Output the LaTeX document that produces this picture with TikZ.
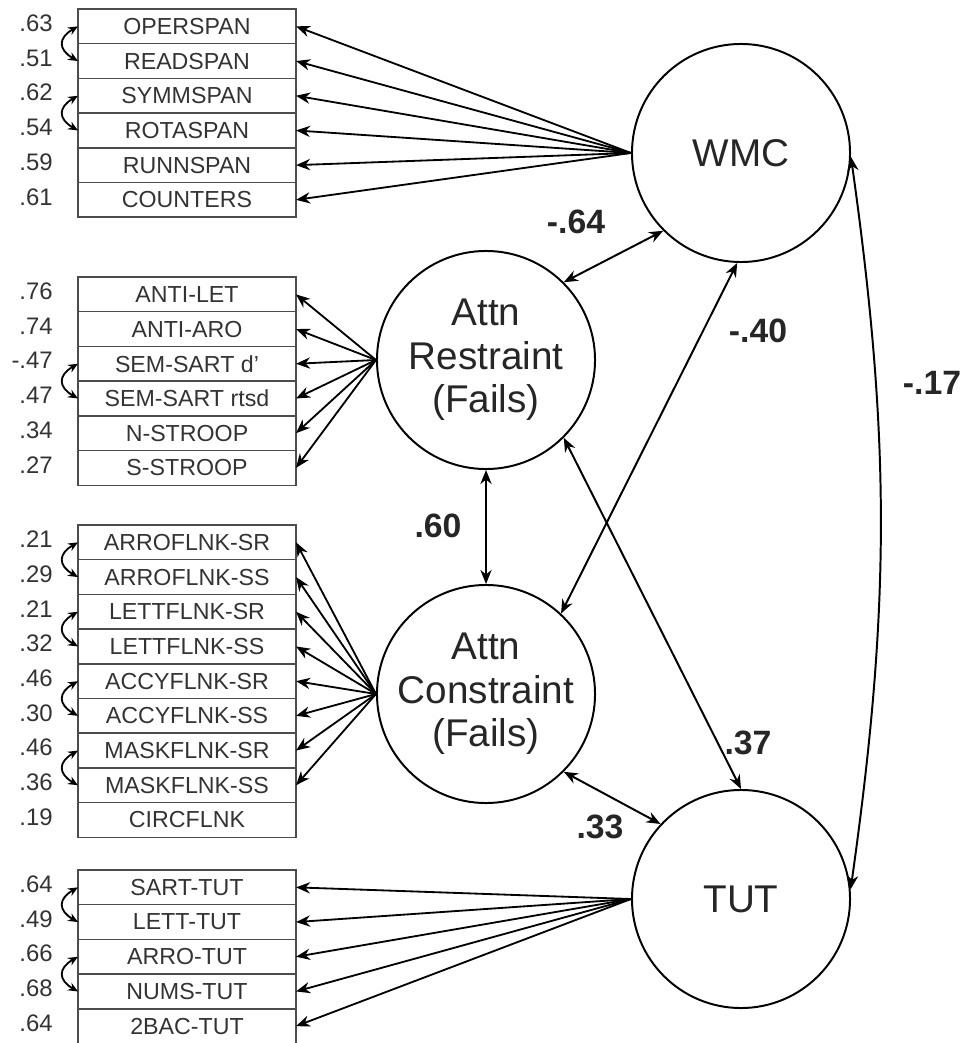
\documentclass[tikz,border=0pt]{standalone}
\usepackage{fontspec}
\setmainfont{Liberation Sans}
\usetikzlibrary{arrows.meta,positioning}

\begin{document}
\begin{tikzpicture}[x=0.025cm,y=-0.025cm,
  ind/.style={draw=black!70,line width=1pt,minimum width=5.45cm,minimum height=0.8675cm,
    inner sep=0pt,outer sep=0pt,text=black!80,font=\fontsize{16.5}{19}\selectfont},
  lat/.style={circle,draw,line width=1.4pt,minimum size=5.45cm,inner sep=0pt,
    align=center,text=black!85,font=\fontsize{27.5}{31}\selectfont},
  num/.style={anchor=east,inner sep=0pt,text=black!80,font=\fontsize{17}{19}\selectfont},
  est/.style={inner sep=0pt,text=black!85,font=\bfseries\fontsize{24}{27}\selectfont},
  load/.style={-{Stealth[length=10pt,width=8pt]},line width=1.3pt},
  cov/.style={{Stealth[length=10pt,width=8pt]}-{Stealth[length=10pt,width=8pt]},line width=1.4pt},
  err/.style={{Stealth[length=7pt,width=6pt]}-{Stealth[length=7pt,width=6pt]},line width=1.3pt}]
\useasboundingbox (0,0) rectangle (961,1043);

% latent factors
\node[lat] (WMC) at (741,153) {WMC};
\node[lat] (Restr) at (486,360) {Attn\\Restraint\\(Fails)};
\node[lat] (Constr) at (486,694) {Attn\\Constraint\\(Fails)};
\node[lat] (TUT) at (741,899) {TUT};

% indicators
\foreach \i/\t/\r in {1/OPERSPAN/.63,2/READSPAN/.51,3/SYMMSPAN/.62,4/ROTASPAN/.54,5/RUNNSPAN/.59,6/COUNTERS/.61}{
  \node[ind] (w\i) at (187,{9+34.7*(\i-0.5)}) {\t};
  \node[num] (wr\i) at (53,{6+34.7*(\i-0.5)}) {\r};
  \draw[load] (WMC.west) -- (w\i.east);
}
\foreach \i/\t/\r in {1/ANTI-LET/.76,2/ANTI-ARO/.74,3/SEM-SART d'/-.47,4/SEM-SART rtsd/.47,5/N-STROOP/.34,6/S-STROOP/.27}{
  \node[ind] (r\i) at (187,{277+34.7*(\i-0.5)}) {\t};
  \node[num] (rr\i) at (53,{274+34.7*(\i-0.5)}) {\r};
  \draw[load] (Restr.west) -- (r\i.east);
}
\foreach \i/\t/\r in {1/ARROFLNK-SR/.21,2/ARROFLNK-SS/.29,3/LETTFLNK-SR/.21,4/LETTFLNK-SS/.32,5/ACCYFLNK-SR/.46,6/ACCYFLNK-SS/.30,7/MASKFLNK-SR/.46,8/MASKFLNK-SS/.36,9/CIRCFLNK/.19}{
  \node[ind] (c\i) at (187,{525+34.7*(\i-0.5)}) {\t};
  \node[num] (cr\i) at (53,{522+34.7*(\i-0.5)}) {\r};
}
\foreach \i in {1,...,8}
  \draw[load] (Constr.west) -- (c\i.east);
\foreach \i/\t/\r in {1/SART-TUT/.64,2/LETT-TUT/.49,3/ARRO-TUT/.66,4/NUMS-TUT/.68,5/2BAC-TUT/.64}{
  \node[ind] (t\i) at (187,{870+34.7*(\i-0.5)}) {\t};
  \node[num] (tr\i) at (53,{867+34.7*(\i-0.5)}) {\r};
  \draw[load] (TUT.west) -- (t\i.east);
}

% correlated errors
\foreach \a/\b in {w1/w2,w3/w4,r3/r4,c1/c2,c3/c4,c5/c6,c7/c8,t1/t2,t3/t4}
  \draw[err] (\a.west) to[out=210,in=150,looseness=1.7] (\b.west);

% factor correlations
\draw[cov] (Restr.45) -- (WMC.225);
\draw[cov] (Constr.47) -- (WMC.268);
\draw[cov] (Restr.south) -- (Constr.north);
\draw[cov] (Restr.-45) -- (TUT.north);
\draw[cov] (Constr.-45) -- (TUT.137);
\draw[cov] (WMC.-2) to[bend left=8] (TUT.5);

\node[est] (e1) at (576,222) {-.64};
\node[est] (e2) at (758,331) {-.40};
\node[est] (e3) at (438,526) {.60};
\node[est] (e4) at (748,743) {.37};
\node[est] (e5) at (600,827) {.33};
\node[est] (e6) at (932,383) {-.17};
\end{tikzpicture}
\end{document}
